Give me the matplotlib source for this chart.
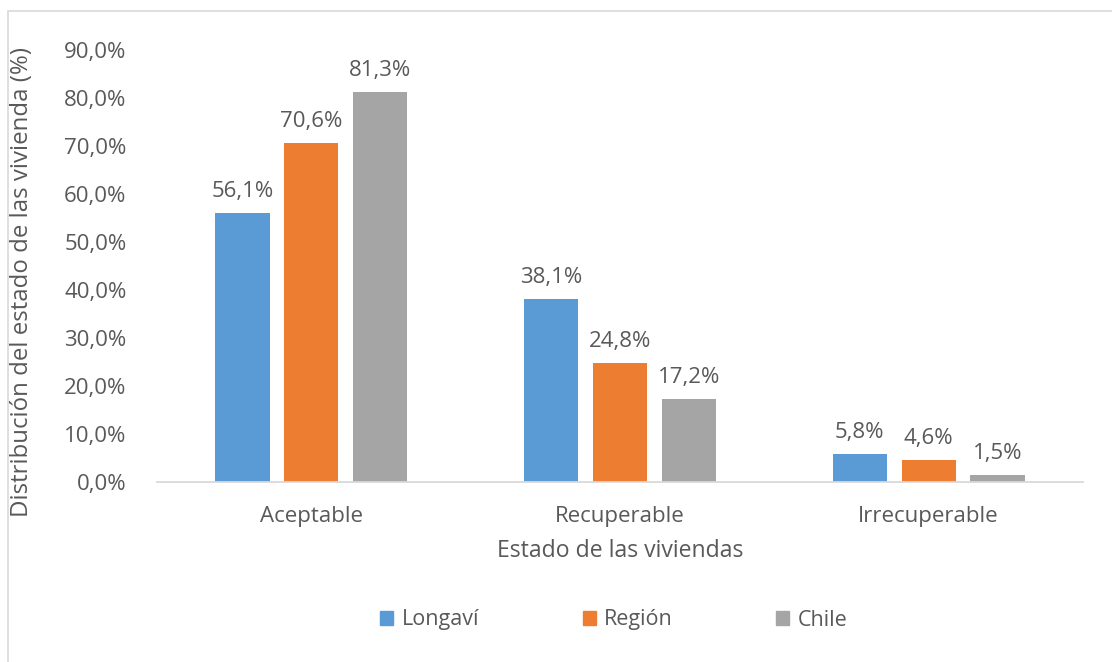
import matplotlib
matplotlib.use("Agg")
import matplotlib.pyplot as plt
import numpy as np
from matplotlib.patches import Rectangle

categories = ["Aceptable", "Recuperable", "Irrecuperable"]
series_names = ["Longaví", "Región", "Chile"]
longavi = [56.1, 38.1, 5.8]
region = [70.6, 24.8, 4.6]
chile = [81.3, 17.2, 1.5]
yticks = [0, 10, 20, 30, 40, 50, 60, 70, 80, 90]

colors = ["#5B9BD5", "#ED7D31", "#A5A5A5"]
txt = "#595959"
plt.rcParams['font.family'] = ['Open Sans', 'DejaVu Sans']

W, H = 1112, 662
fig = plt.figure(figsize=(W/100, H/100), dpi=100)
ax = fig.add_axes([157/W, 1-482/H, (1083-157)/W, (482-50)/H])

x = np.arange(len(categories))
bw = 0.175
step = 0.223
for i, (vals, name) in enumerate(zip([longavi, region, chile], series_names)):
    pos = x + (i-1)*step
    ax.bar(pos, vals, bw, color=colors[i], label=name)
    for p, v in zip(pos, vals):
        ax.text(p, v + 2.3, f"{v:.1f}%".replace('.', ','), ha='center', va='bottom',
                fontsize=16, color=txt)

ax.set_xlim(-0.5, 2.5)
ax.set_ylim(0, 90)
ax.set_yticks(yticks)
ax.set_yticklabels([f"{v:.1f}%".replace('.', ',') for v in yticks])
ax.set_xticks(x)
ax.set_xticklabels(categories)
ax.tick_params(axis='both', length=0, labelsize=16, colors=txt)
ax.tick_params(axis='y', pad=22)
ax.tick_params(axis='x', pad=17)
for s in ['top', 'right', 'left']:
    ax.spines[s].set_visible(False)
ax.spines['bottom'].set_color('#D9D9D9')
ax.spines['bottom'].set_linewidth(1.3)

fig.text(22/W, 1-282/H, "Distribución del estado de las vivienda (%)", rotation=90,
         ha='center', va='center', fontsize=17.3, color=txt)
fig.text(620/W, 1-551/H, "Estado de las viviendas", ha='center', va='center',
         fontsize=16.6, color=txt)

handles = [Rectangle((0, 0), 1, 1, color=c) for c in colors]
fig.legend(handles, series_names, loc='center', bbox_to_anchor=(614/W, 1-620/H),
           ncol=3, frameon=False, fontsize=15.5, handlelength=0.6, handleheight=0.6,
           handletextpad=0.4, columnspacing=4.8, labelcolor=txt)

fig.patches.append(Rectangle((8/W, -0.1), 1.2, 1-11/H+0.1, transform=fig.transFigure,
                             fill=False, edgecolor='#D9D9D9', linewidth=1.2))

fig.savefig("out.png", dpi=100)
